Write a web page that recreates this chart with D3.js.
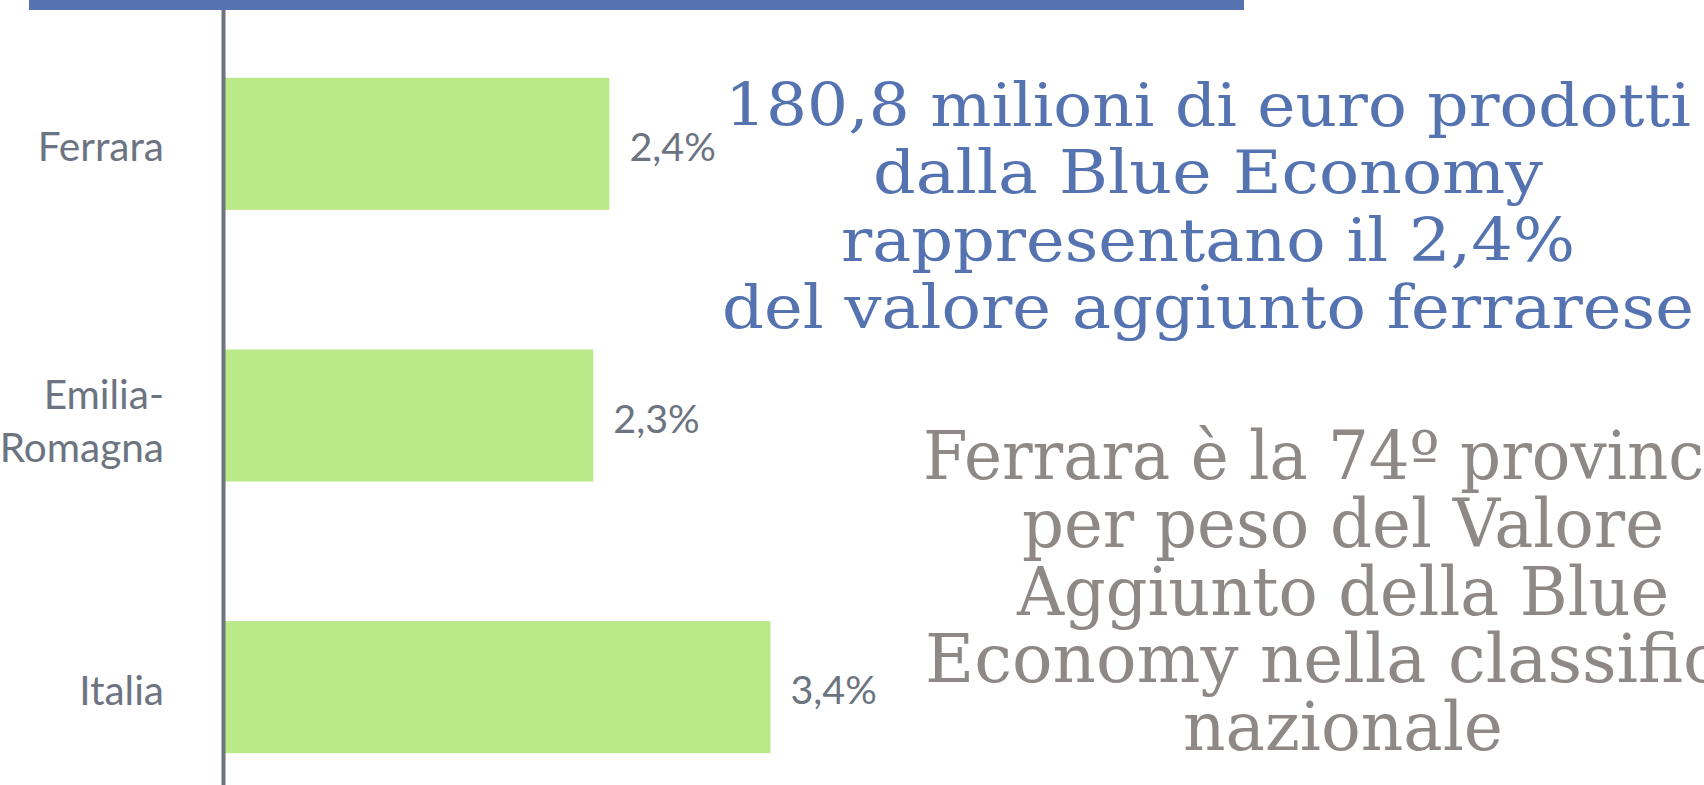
<!DOCTYPE html>
<html>
<head>
<meta charset="utf-8">
<script src="https://cdn.jsdelivr.net/npm/d3@7"></script>
<style>
  html, body { margin: 0; padding: 0; background: #ffffff; overflow: hidden; }
  svg { display: block; }
</style>
</head>
<body>
<svg id="chart" width="1704" height="785"></svg>
<script>
// ---- data ----
const categories = ["Ferrara", "Emilia-Romagna", "Italia"];
const categoryLines = [["Ferrara"], ["Emilia-", "Romagna"], ["Italia"]];
const values = [2.4, 2.3, 3.4];
const headlineLines = [
  "180,8 milioni di euro prodotti",
  "dalla Blue Economy",
  "rappresentano il 2,4%",
  "del valore aggiunto ferrarese"
];
const noteLines = [
  "Ferrara è la 74º provincia",
  "per peso del Valore",
  "Aggiunto della Blue",
  "Economy nella classifica",
  "nazionale"
];

// ---- layout / style ----
const W = 1704, H = 785;
const headlineWidths = [966, 670, 734, 972];
const noteWidths = [840, 642, 652, 836, 320];
const BLUE = "#5473b0", GREEN = "#bae98a", AXIS = "#6c7580", LABEL = "#6b7480", NOTE = "#8e8886";

const svg = d3.select("#chart");

const it = d3.formatLocale({decimal: ",", thousands: ".", grouping: [3], currency: ["€", ""]});
const fmt = v => it.format(".1f")(v) + "%";

const x = d3.scaleLinear().domain([0, 4]).range([223, 223 + 4 * 161]);
const y = d3.scaleBand().domain(categories).range([8, 823]).paddingInner(0.5138).paddingOuter(0.2569);

const data = categories.map((c, i) => ({cat: c, value: values[i], lines: categoryLines[i]}));

// bars
svg.append("g").selectAll("rect").data(data).join("rect")
  .attr("x", x(0))
  .attr("y", d => y(d.cat))
  .attr("width", d => x(d.value) - x(0))
  .attr("height", y.bandwidth())
  .attr("fill", GREEN);

// value labels
svg.append("g").selectAll("text").data(data).join("text")
  .attr("x", d => x(d.value) + 20)
  .attr("y", d => y(d.cat) + y.bandwidth() / 2 + 17)
  .attr("font-family", "Lato")
  .attr("font-size", 39.5)
  .attr("fill", LABEL)
  .text(d => fmt(d.value));

// axis
const axis = svg.append("g")
  .attr("transform", `translate(${x(0)},0)`)
  .call(d3.axisLeft(y).tickSize(0).tickSizeOuter(0).tickFormat(""));
axis.select(".domain").attr("stroke", AXIS).attr("stroke-width", 4);

// category labels (multi-line)
const lab = svg.append("g").selectAll("text").data(data).join("text")
  .attr("text-anchor", "end")
  .attr("font-family", "Lato")
  .attr("font-size", 40.5)
  .attr("fill", LABEL)
  .attr("transform", d => `translate(164,${y(d.cat) + y.bandwidth() / 2 + 17.5})`);
lab.each(function(d) {
  const n = d.lines.length;
  const lh = 53;
  d3.select(this).selectAll("tspan").data(d.lines).join("tspan")
    .attr("x", 0)
    .attr("y", (l, i) => (i - (n - 1) / 2) * lh + (n > 1 ? 2 : 0))
    .text(l => l);
});

// top blue band
svg.append("rect").attr("x", 29).attr("y", 0).attr("width", 1244 - 29).attr("height", 10).attr("fill", BLUE);

// headline text
svg.append("g").selectAll("text").data(headlineLines).join("text")
  .attr("x", 1208)
  .attr("y", (d, i) => 126 + i * 67.4)
  .attr("text-anchor", "middle")
  .attr("font-family", "DejaVu Serif")
  .attr("font-size", 60)
  .attr("fill", BLUE)
  .attr("textLength", (d, i) => headlineWidths[i])
  .attr("lengthAdjust", "spacingAndGlyphs")
  .text(d => d);

// note text
svg.append("g").selectAll("text").data(noteLines).join("text")
  .attr("x", 1343)
  .attr("y", (d, i) => 479 + i * 67.75)
  .attr("text-anchor", "middle")
  .attr("font-family", "DejaVu Serif")
  .attr("font-size", 67)
  .attr("fill", NOTE)
  .attr("textLength", (d, i) => noteWidths[i])
  .attr("lengthAdjust", "spacingAndGlyphs")
  .text(d => d);
</script>
</body>
</html>
